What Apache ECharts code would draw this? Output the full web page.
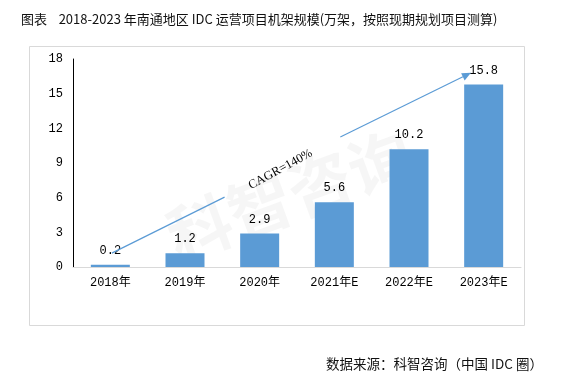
<!DOCTYPE html>
<html><head><meta charset="utf-8">
<script src="https://cdn.jsdelivr.net/npm/echarts@6/dist/echarts.min.js"></script>
<style>html,body{margin:0;padding:0;background:#fff}#c{width:563px;height:379px}</style>
</head><body><div id="c"></div>
<script>
const categories = ['2018年','2019年','2020年','2021年E','2022年E','2023年E'];
const values = [0.2, 1.2, 2.9, 5.6, 10.2, 15.8];
const yTicks = [0, 3, 6, 9, 12, 15, 18];
const titleText = '图表    2018-2023 年南通地区 IDC 运营项目机架规模(万架，按照现期规划项目测算)';
const sourceText = '数据来源：科智咨询（中国 IDC 圈）';
const cagrText = 'CAGR=140%';
// annotation anchors in data space: [category position (fractional index), value]
const arrowLower = [[0.02, 1.2], [1.53, 6.05]];
const arrowUpper = [[3.08, 11.25], [4.83, 16.8]];
const cagrAnchor = [2.28, 8.45];

const BLUE = '#5B9BD5';
const SERIF = "'Liberation Serif','Noto Sans CJK SC',serif";
const MONO = "'Liberation Mono','Noto Sans CJK SC',monospace";
const SANS = "'Noto Sans CJK SC','Noto Sans',sans-serif";

const chart = echarts.init(document.getElementById('c'), null, {renderer: 'canvas'});
const option = {
  animation: false,
  backgroundColor: '#fff',
  title: [
    {text: titleText, left: 16, top: 8, textStyle: {fontFamily: SANS, fontSize: 13, fontWeight: 'normal', color: '#111'}},
    {text: sourceText, right: 15, top: 352, textStyle: {fontFamily: SANS, fontSize: 13.5, fontWeight: 'normal', color: '#111'}}
  ],
  grid: {left: 73, right: 42, top: 59, bottom: 112, containLabel: false},
  xAxis: {
    type: 'category', data: categories,
    axisLine: {show: true, lineStyle: {color: '#d9d9d9', width: 1}},
    axisTick: {show: false},
    axisLabel: {margin: 10, color: '#000', fontFamily: MONO, fontSize: 12}
  },
  yAxis: {
    type: 'value', min: yTicks[0], max: yTicks[yTicks.length - 1], interval: yTicks[1] - yTicks[0],
    axisLine: {show: true, lineStyle: {color: '#000', width: 1}},
    axisTick: {show: false},
    splitLine: {show: false},
    axisLabel: {margin: 10, color: '#000', fontFamily: MONO, fontSize: 12}
  },
  series: [{
    type: 'bar', data: values, barWidth: 39, z: 5,
    itemStyle: {color: BLUE},
    label: {show: true, position: 'top', distance: 8, color: '#000', fontFamily: MONO, fontSize: 12,
      formatter: p => String(p.value)}
  }]
};
chart.setOption(option);

function px(pt) {
  const a = chart.convertToPixel({seriesIndex: 0}, [0, pt[1]]);
  const b = chart.convertToPixel({seriesIndex: 0}, [1, pt[1]]);
  return [a[0] + pt[0] * (b[0] - a[0]), a[1]];
}
const l0 = px(arrowLower[0]), l1 = px(arrowLower[1]);
const u0 = px(arrowUpper[0]), u1 = px(arrowUpper[1]);
const c = px(cagrAnchor);
const ang = Math.atan2(u1[1] - u0[1], u1[0] - u0[0]);
const hl = 9, hw = 4;
const bx = u1[0] - hl * Math.cos(ang), by = u1[1] - hl * Math.sin(ang);
const head = [
  [u1[0], u1[1]],
  [bx + hw * Math.sin(ang), by - hw * Math.cos(ang)],
  [bx - hw * Math.sin(ang), by + hw * Math.cos(ang)]
];
const textAng = -Math.atan2(l1[1] - l0[1], l1[0] - l0[0]) + 0.04;

chart.setOption({
  graphic: [
    {type: 'rect', shape: {x: 29.5, y: 46.5, width: 495, height: 279}, style: {fill: 'none', stroke: '#d9d9d9', lineWidth: 1}, z: -10, silent: true},
    {type: 'text', x: 290, y: 195, rotation: 0.35, z: -5, silent: true,
      style: {text: '科智咨询', fill: 'rgba(0,0,0,0.035)', font: "bold 64px 'Noto Sans CJK SC'", textAlign: 'center', textVerticalAlign: 'middle'}},
    {type: 'line', shape: {x1: l0[0], y1: l0[1], x2: l1[0], y2: l1[1]}, style: {stroke: BLUE, lineWidth: 1.2}, z: 10},
    {type: 'line', shape: {x1: u0[0], y1: u0[1], x2: bx, y2: by}, style: {stroke: BLUE, lineWidth: 1.2}, z: 10},
    {type: 'polygon', shape: {points: head}, style: {fill: BLUE}, z: 10},
    {type: 'text', x: c[0], y: c[1], rotation: textAng, z: 10,
      style: {text: cagrText, fill: '#000', font: "12.5px " + SERIF, textAlign: 'center', textVerticalAlign: 'middle'}}
  ]
});
</script></body></html>
